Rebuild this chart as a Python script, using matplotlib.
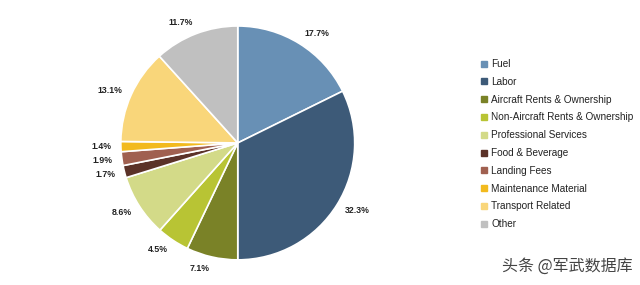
import numpy as np
import matplotlib.pyplot as plt
from matplotlib.lines import Line2D

plt.rcParams['font.family'] = ['Liberation Sans', 'DejaVu Sans']

# Cost breakdown
categories = ["Fuel", "Labor", "Aircraft Rents & Ownership", "Non-Aircraft Rents & Ownership",
              "Professional Services", "Food & Beverage", "Landing Fees",
              "Maintenance Material", "Transport Related", "Other"]
shares = [17.7, 32.3, 7.1, 4.5, 8.6, 1.7, 1.9, 1.4, 13.1, 11.7]
colors = ["#6890b5", "#3d5a78", "#7a8227", "#b8c434", "#d3da88",
          "#5b3228", "#a06050", "#f2ba1e", "#f9d67a", "#c0c0c0"]

fig = plt.figure(figsize=(6.4, 2.85), dpi=100)
ax = fig.add_axes([0.134, -0.035, 0.475, 1.067])

wedges, _ = ax.pie(shares, colors=colors, startangle=90, counterclock=False,
                   wedgeprops=dict(edgecolor='white', linewidth=1.2))
ax.set_xlim(-1.3, 1.3)
ax.set_ylim(-1.3, 1.3)
ax.set_aspect('equal')

# percentage labels just outside each wedge
for w, v in zip(wedges, shares):
    ang = np.deg2rad((w.theta1 + w.theta2) / 2)
    x, y = np.cos(ang), np.sin(ang)
    ha = 'left' if x > 0.05 else ('right' if x < -0.05 else 'center')
    ax.text(1.08 * x, 1.1 * y, "{:.1f}%".format(v), ha=ha, va='center',
            fontsize=6.3, fontweight='bold', color='#222222')

handles = [Line2D([], [], marker='s', linestyle='none', markersize=4,
                  markerfacecolor=c, markeredgecolor=c) for c in colors]
leg = fig.legend(handles, categories, loc='upper left', bbox_to_anchor=(0.745, 0.807),
                 frameon=False, fontsize=7.2, handlelength=0.6, handletextpad=0.45,
                 labelspacing=0.78, borderaxespad=0)
for t in leg.get_texts():
    t.set_color('#222222')

fig.text(0.988, 0.035, "头条 @军武数据库", ha='right', va='bottom', fontsize=11.5,
         color='#444444', family=['Noto Sans CJK SC', 'DejaVu Sans'])

fig.savefig("out.png", dpi=100)
